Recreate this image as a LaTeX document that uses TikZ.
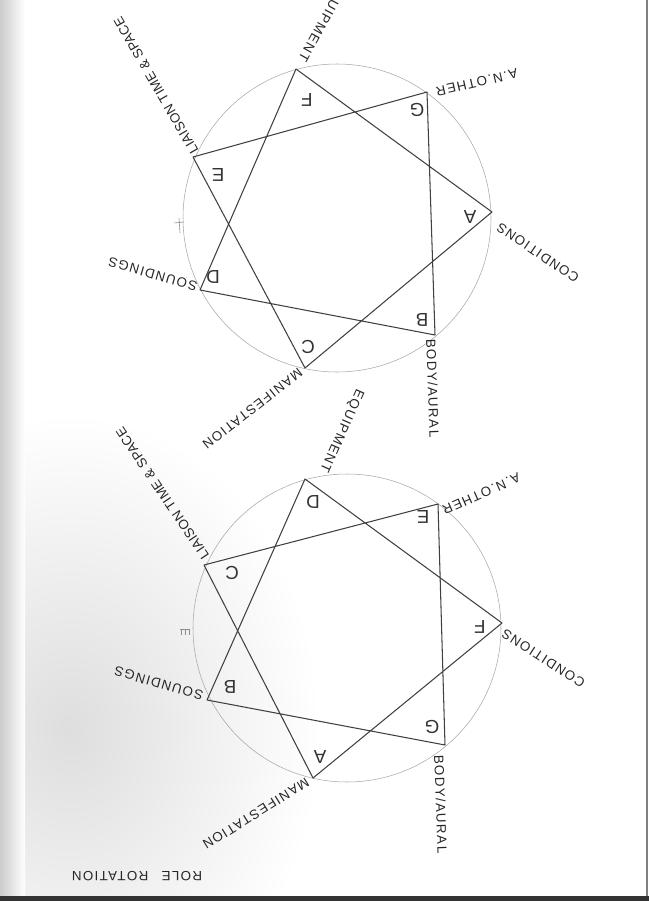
\documentclass[tikz,border=0pt]{standalone}
\usepackage{fontspec}
\setmainfont{Liberation Sans}
\usetikzlibrary{calc}

\begin{document}
\begin{tikzpicture}[x=0.3mm, y=-0.3mm,
  ring/.style={draw=black!35, line width=0.45pt},
  star/.style={draw=black!75, line width=0.9pt, line join=round},
  lbl/.style={font=\fontsize{11.4}{12}\selectfont\addfontfeatures{LetterSpace=10},
    text=black!85, inner sep=0pt},
  longlbl/.style={lbl, font=\fontsize{11.4}{12}\selectfont\addfontfeatures{LetterSpace=3}},
  corner/.style={font=\fontsize{16}{16}\selectfont, text=black!80, rotate=180, inner sep=0pt},
  pencil/.style={draw=black!45, line width=0.5pt}]

  \useasboundingbox (0,0) rectangle (649,901);

  % scan marks
  \shade[inner color=black!13, outer color=white] (70,730) ellipse [x radius=75mm, y radius=-95mm];
  \shade[left color=black!20, right color=white] (0,0) rectangle (25,895);
  \draw[black!50, line width=1pt] (647,0) -- (647,896);
  \fill[black!80] (0,896) rectangle (649,901);

  % upper star
  \coordinate (uO) at (337,218);
  \coordinate (uA) at (492,212);
  \coordinate (uB) at (435,335);
  \coordinate (uC) at (305,368);
  \coordinate (uD) at (200,290);
  \coordinate (uE) at (193,157);
  \coordinate (uF) at (296,69);
  \coordinate (uG) at (427,92);

  \draw[ring] (uO) circle[radius=46.2mm];
  \draw[star] (uF) -- (uA) -- (uC) -- (uE) -- (uG) -- (uB) -- (uD) -- cycle;

  \node[corner] (uLa) at (470,217) {A};
  \node[corner] (uLb) at (422,320) {B};
  \node[corner] (uLc) at (308,347) {C};
  \node[corner] (uLd) at (213,277) {D};
  \node[corner] (uLe) at (218,175) {E};
  \node[corner] (uLf) at (307,100) {F};
  \node[corner] (uLg) at (417,110) {G};

  \node[lbl, rotate=241, anchor=east] (uEquip) at (301,60) {EQUIPMENT};
  \node[lbl, rotate=193, anchor=east] (uOther) at (436,92) {A.N.OTHER};
  \node[lbl, rotate=146, anchor=east] (uCond) at (498,226) {CONDITIONS};
  \node[lbl, rotate=-88, anchor=west] (uBody) at (431,339) {BODY/AURAL};
  \node[lbl, rotate=218, anchor=west] (uMani) at (301,371) {MANIFESTATION};
  \node[lbl, rotate=164, anchor=west] (uSound) at (197,287) {SOUNDINGS};
  \node[longlbl, rotate=120, anchor=west] (uLiai) at (195,153) {LIAISON TIME \& SPACE};

  \draw[pencil] (179,218) -- (180,233);
  \draw[pencil] (174,223) -- (184,222);

  % lower star
  \coordinate (lO) at (347,628);
  \coordinate (lA) at (313,778);
  \coordinate (lB) at (207,700);
  \coordinate (lC) at (204,565);
  \coordinate (lD) at (305,479);
  \coordinate (lE) at (438,504);
  \coordinate (lF) at (502,623);
  \coordinate (lG) at (445,745);

  \draw[ring] (lO) circle[radius=46.2mm];
  \draw[star] (lD) -- (lF) -- (lA) -- (lC) -- (lE) -- (lG) -- (lB) -- cycle;

  \node[corner] (lLa) at (320,757) {A};
  \node[corner] (lLb) at (230,687) {B};
  \node[corner] (lLc) at (232,573) {C};
  \node[corner] (lLd) at (313,502) {D};
  \node[corner] (lLe) at (423,517) {E};
  \node[corner] (lLf) at (480,627) {F};
  \node[corner] (lLg) at (432,727) {G};

  \node[lbl, rotate=246, anchor=east] (lEquip) at (323,472) {EQUIPMENT};
  \node[lbl, rotate=204, anchor=east] (lOther) at (443,511) {A.N.OTHER};
  \node[lbl, rotate=147, anchor=east] (lCond) at (503,632) {CONDITIONS};
  \node[lbl, rotate=-88, anchor=west] (lBody) at (439,755) {BODY/AURAL};
  \node[lbl, rotate=212, anchor=west] (lMani) at (308,781) {MANIFESTATION};
  \node[lbl, rotate=164, anchor=west] (lSound) at (203,696) {SOUNDINGS};
  \node[longlbl, rotate=124, anchor=west] (lLiai) at (206,558) {LIAISON TIME \& SPACE};

  \draw[pencil] (180,629) -- (190,629);
  \draw[pencil] (181,629) -- (181,635) (185,629) -- (185,635) (189,629) -- (189,635);

  \node[lbl, rotate=180] (title) at (137,876) {ROLE\quad ROTATION};
\end{tikzpicture}
\end{document}
